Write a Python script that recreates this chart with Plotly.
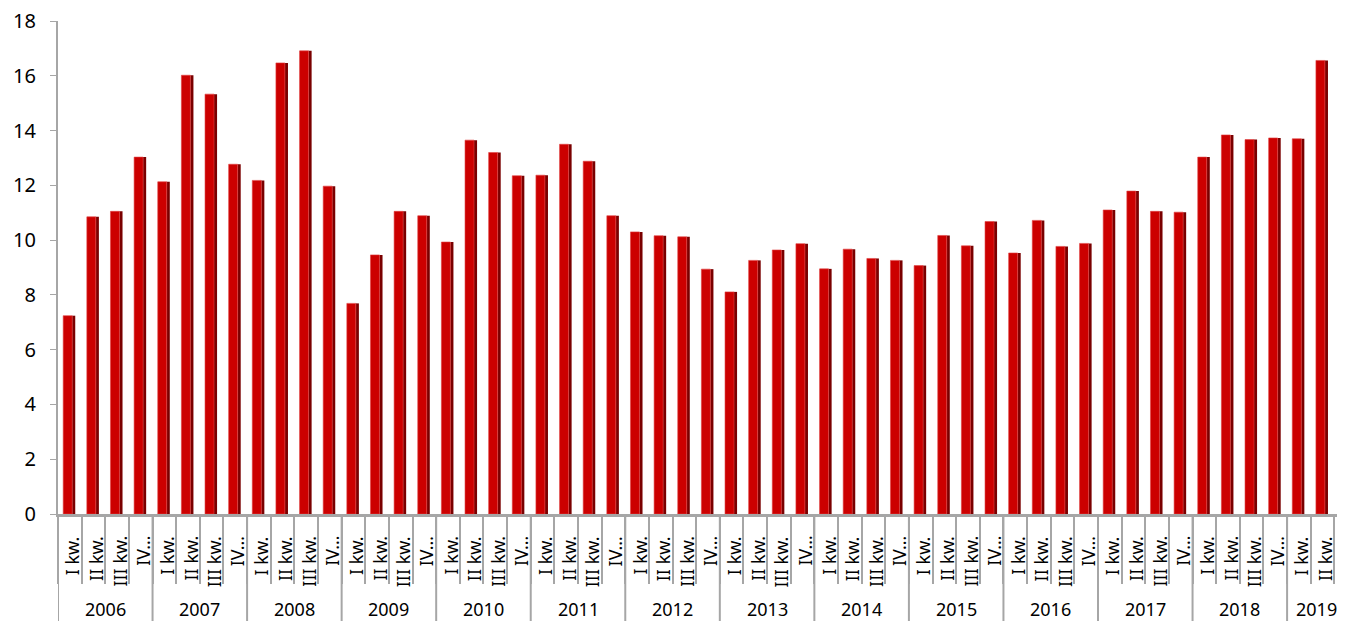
import plotly.graph_objects as go

years = ["2006", "2007", "2008", "2009", "2010", "2011", "2012", "2013",
         "2014", "2015", "2016", "2017", "2018", "2019"]
quarter_labels = ["I kw.", "II kw.", "III kw.", "IV…"]

values = [
    7.24, 10.85, 11.05, 13.03,   # 2006
    12.13, 16.02, 15.33, 12.77,  # 2007
    12.18, 16.47, 16.91, 11.97,  # 2008
    7.69, 9.46, 11.05, 10.89,    # 2009
    9.93, 13.65, 13.20, 12.35,   # 2010
    12.37, 13.50, 12.88, 10.89,  # 2011
    10.30, 10.16, 10.12, 8.94,   # 2012
    8.11, 9.26, 9.64, 9.87,      # 2013
    8.95, 9.67, 9.33, 9.26,      # 2014
    9.07, 10.17, 9.79, 10.68,    # 2015
    9.53, 10.72, 9.77, 9.88,     # 2016
    11.10, 11.79, 11.05, 11.02,  # 2017
    13.03, 13.84, 13.67, 13.73,  # 2018
    13.70, 16.56, 16.97,         # 2019 (I-III)
]

# category keys (year + quarter) and their display parts
cat_year = [years[i // 4] for i in range(len(values))]
cat_q = [quarter_labels[i % 4] for i in range(len(values))]
cats = [f"{y} {q}" for y, q in zip(cat_year, cat_q)]

FONT = "Noto Sans"
GRID = "#A6A6A6"
PLOT_H = 493  # plot-area height in px, used to convert label offsets

fig = go.Figure()
# dark side face of each bar (3-D look)
fig.add_trace(go.Bar(
    x=cats, y=values, width=0.13, offset=0.1,
    marker=dict(color="#7A0000", line=dict(width=0)), hoverinfo="skip",
    showlegend=False,
))
# front face
fig.add_trace(go.Bar(
    x=cats, y=values, width=0.38, offset=-0.28,
    marker=dict(color="#CC0000", line=dict(color="#E04040", width=0.6)),
    showlegend=False,
))

annotations = []
# quarter labels, rotated
for i, q in enumerate(cat_q):
    annotations.append(dict(
        x=cats[i], xref="x", y=0, yref="paper", yshift=-20, xshift=2,
        text=q, textangle=-90, showarrow=False,
        xanchor="center", yanchor="top",
        font=dict(size=18, family=FONT, color="#000000"),
    ))
# year labels, centred on their group of quarters
shapes = []
for k, yr in enumerate(years):
    idx = [i for i, y in enumerate(cat_year) if y == yr]
    centre = (idx[0] + idx[-1]) / 2
    annotations.append(dict(
        x=centre, xref="x", y=0, yref="paper", yshift=-95,
        xshift=-6 if k == len(years) - 1 else 0,
        text=yr, showarrow=False, xanchor="center", yanchor="middle",
        font=dict(size=18, family=FONT, color="#000000"),
    ))
    # divider at the left boundary of every year group
    shapes.append(dict(
        type="line", xref="x", yref="paper",
        x0=idx[0] - 0.5, x1=idx[0] - 0.5, y0=0, y1=-110 / PLOT_H,
        line=dict(color=GRID, width=2),
    ))

fig.update_layout(
    width=1337, height=613,
    margin=dict(l=50, r=0, t=13, b=107),
    paper_bgcolor="white", plot_bgcolor="white",
    barmode="overlay",
    font=dict(family=FONT, color="#000000"),
    annotations=annotations,
    shapes=shapes,
    xaxis=dict(
        type="category",
        categoryorder="array", categoryarray=cats,
        range=[-0.5, 53.95],
        autorange=False,
        automargin=False,
        showgrid=False,
        showline=True, linecolor=GRID, linewidth=3,
        showticklabels=False,
        tickson="boundaries", ticks="outside", ticklen=67,
        tickcolor=GRID, tickwidth=2,
    ),
    yaxis=dict(
        range=[0, 18], dtick=2, tick0=0,
        automargin=False,
        showgrid=False, zeroline=False,
        showline=True, linecolor=GRID, linewidth=2,
        ticks="outside", ticklen=6, tickcolor=GRID,
        ticklabelstandoff=10,
        ticklabeloverflow="allow",
        tickfont=dict(size=20, family=FONT, color="#000000"),
    ),
)

fig.write_html("out.html")
